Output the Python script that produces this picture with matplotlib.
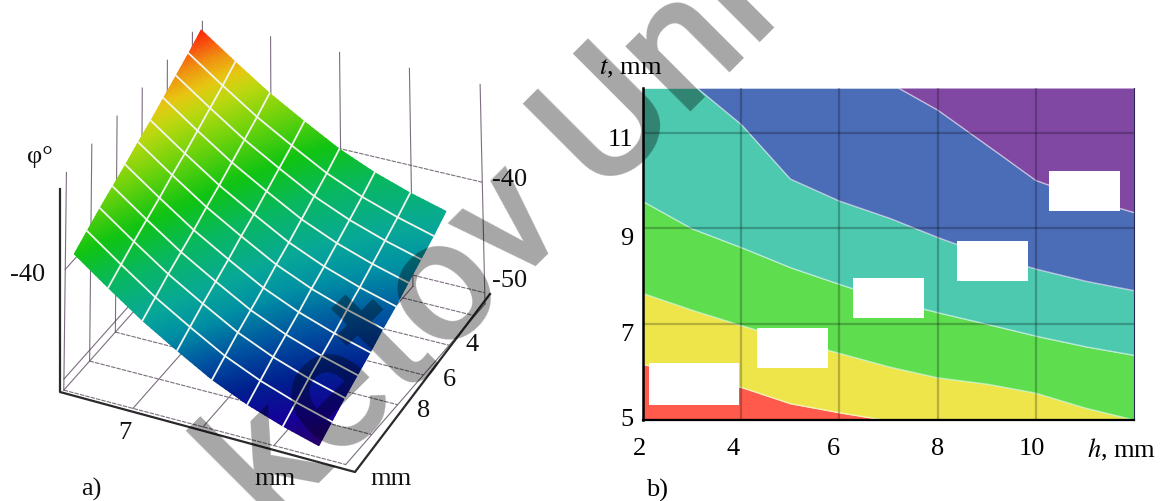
import numpy as np
import matplotlib
matplotlib.use("Agg")
import matplotlib.pyplot as plt
from matplotlib.colors import LinearSegmentedColormap, Normalize
from matplotlib.patches import Rectangle
from matplotlib.transforms import ScaledTranslation

W, H = 1161, 502
plt.rcParams['font.family'] = ['Liberation Serif', 'DejaVu Serif']
FS = 19

# ---------- data, panel a ----------
h_grid = [2, 3, 4, 5, 6, 7, 8, 9, 10, 11, 12]
t_grid = [5, 6, 7, 8, 9, 10, 11, 12]
phi_t5 = [-31.7, -32.6, -33.4, -34.2, -35.0, -35.7, -36.5, -37.2, -37.9, -38.7, -39.5]
phi_t6 = [-34.0, -34.9, -35.7, -36.5, -37.3, -38.0, -38.8, -39.5, -40.2, -41.0, -41.8]
phi_t7 = [-36.2, -37.1, -37.9, -38.7, -39.5, -40.2, -41.0, -41.7, -42.4, -43.2, -44.0]
phi_t8 = [-38.1, -39.0, -39.8, -40.6, -41.4, -42.1, -42.9, -43.6, -44.3, -45.1, -45.9]
phi_t9 = [-39.9, -40.8, -41.6, -42.4, -43.2, -43.9, -44.7, -45.4, -46.1, -46.9, -47.7]
phi_t10 = [-41.3, -42.2, -43.0, -43.8, -44.6, -45.3, -46.1, -46.8, -47.5, -48.3, -49.1]
phi_t11 = [-42.4, -43.3, -44.1, -44.9, -45.7, -46.4, -47.2, -47.9, -48.6, -49.4, -50.2]
phi_t12 = [-43.3, -44.2, -45.0, -45.8, -46.6, -47.3, -48.1, -48.8, -49.5, -50.3, -51.1]

# ---------- data, panel b: boundaries between bands ----------
red_h = [2, 4, 5, 6, 6.9, 12]
red_t = [6.16, 5.68, 5.34, 5.15, 5.0, 5.0]
yellow_h = [2, 3, 4, 5, 6, 7, 8, 9, 10, 11, 12]
yellow_t = [7.64, 7.29, 6.97, 6.67, 6.39, 6.11, 5.88, 5.75, 5.56, 5.25, 5.0]
green_h = [2, 3, 4, 5, 6, 7, 8, 9, 10, 11, 12]
green_t = [9.56, 8.99, 8.6, 8.18, 7.83, 7.5, 7.24, 7.0, 6.75, 6.53, 6.35]
teal_h = [2, 3.1, 4, 5, 6, 7, 8, 9, 10, 11, 12]
teal_t = [11.93, 11.93, 11.17, 10.03, 9.57, 9.22, 8.81, 8.44, 8.15, 7.9, 7.7]
blue_h = [2, 7.2, 8, 9, 10, 11, 12]
blue_t = [11.93, 11.93, 11.47, 10.74, 10.0, 9.63, 9.33]
band_colors = ['#FF5A4B', '#EEE54A', '#5EDD4E', '#4CC9AE', '#4B6CB7', '#8148A3']

fig = plt.figure(figsize=(W / 100, H / 100), dpi=100)
ov = fig.add_axes([0, 0, 1, 1])
ov.set_xlim(0, W); ov.set_ylim(H, 0); ov.axis('off')

# ---------- camera for panel a ----------
anchors = [
    (1.9, 5, -51, 204, 255), (1.9, 13, -51, 482, 295), (12.7, 5, -51, 64, 377),
    (12.7, 13, -51, 352, 468), (1.9, 5, -31, 204, 13), (1.9, 13, -31, 482, 92),
    (12.7, 5, -31, 64, 182), (2, 5, -31.7, 202, 26), (2, 12, -43.3, 443, 210),
    (12, 5, -39.5, 73, 255), (12, 12, -51.1, 316, 450),
]
A, b = [], []
for a1, a2, a3, px, py in anchors:
    A.append([a1, a2, a3, 1, 0, 0, 0, 0, -px * a1, -px * a2, -px * a3]); b.append(px)
    A.append([0, 0, 0, 0, a1, a2, a3, 1, -py * a1, -py * a2, -py * a3]); b.append(py)
P = np.append(np.linalg.lstsq(np.array(A, float), np.array(b, float), rcond=None)[0], 1).reshape(3, 4)


def project(h, t, z):
    h, t, z = np.broadcast_arrays(np.asarray(h, float), np.asarray(t, float), np.asarray(z, float))
    q = np.stack([h, t, z, np.ones_like(h)], -1) @ P.T
    return q[..., 0] / q[..., 2], q[..., 1] / q[..., 2]


WALL = dict(color='#5b4a5e', lw=0.8, alpha=0.8, zorder=1)
DASH = dict(WALL, ls=(0, (4, 1)))
zb, zt = -51, -31
for tt in [5, 7, 9, 11, 13]:
    xs, ys = project(1.9, tt, [zb, zt]); ov.plot(xs, ys, **WALL)
    xs, ys = project([1.9, 12.7], tt, zb); ov.plot(xs, ys, **WALL)
for hh in [2, 4, 6, 8, 10, 12]:
    xs, ys = project(hh + 0.7, 5, [zb, zt]); ov.plot(xs, ys, **WALL)
    xs, ys = project(hh + 0.7, [5, 13], zb); ov.plot(xs, ys, **DASH)
for zz in [-40, -50]:
    xs, ys = project(1.9, [5, 13], zz); ov.plot(xs, ys, **DASH)
    xs, ys = project([1.9, 12.7], 5, zz); ov.plot(xs, ys, **WALL)

# surface: vertex table, smoothed for drawing only
Z = np.array([phi_t5, phi_t6, phi_t7, phi_t8, phi_t9, phi_t10, phi_t11, phi_t12])
sub = 8
ti = np.linspace(0, len(t_grid) - 1, (len(t_grid) - 1) * sub + 1)
hi = np.linspace(0, len(h_grid) - 1, (len(h_grid) - 1) * sub + 1)
Zf = np.array([np.interp(hi, np.arange(len(h_grid)), row) for row in Z])
Zf = np.array([np.interp(ti, np.arange(len(t_grid)), col) for col in Zf.T]).T
HHf, TTf = np.meshgrid(np.interp(hi, np.arange(len(h_grid)), h_grid), np.interp(ti, np.arange(len(t_grid)), t_grid))
Xf, Yf = project(HHf, TTf, Zf)
z_stops = [-51.5, -50, -48.5, -47, -45.2, -43.8, -41.6, -39.6, -37.2, -35.5, -34.5, -33.3, -32.4, -31.5]
c_stops = ['#2c0058', '#16009a', '#00208f', '#0050a0', '#0090a4', '#08a898', '#08b860', '#10c412',
           '#78d40c', '#c0d810', '#e8c812', '#f09010', '#f85010', '#ff1c00']
pos = (np.array(z_stops) - z_stops[0]) / (z_stops[-1] - z_stops[0])
cmap = LinearSegmentedColormap.from_list('surf', list(zip(pos, c_stops)))
ov.pcolormesh(Xf, Yf, Zf, shading='gouraud', cmap=cmap, norm=Normalize(z_stops[0], z_stops[-1]),
              zorder=2, rasterized=True)
HH, TT = np.meshgrid(h_grid, t_grid)
X2, Y2 = project(HH, TT, Z)
for i in range(1, len(t_grid) - 1):
    ov.plot(X2[i, :], Y2[i, :], color='#f2f6ee', lw=1.3, zorder=3)
for j in range(1, len(h_grid) - 1):
    ov.plot(X2[:, j], Y2[:, j], color='#f2f6ee', lw=1.3, zorder=3)

# outer axes of the 3D box
ov.plot([60, 60, 355, 490], [190, 393, 473, 295], color='#2a2a2a', lw=1.6, zorder=4)

panel_a_texts = [('φ°', 40, 157), ('-40', 28, 275), ('-40', 510, 180), ('-50', 510, 281),
                 ('4', 472, 345), ('6', 449, 380), ('8', 424, 411), ('7', 125, 433),
                 ('mm', 275, 479), ('mm', 391, 479), ('a)', 91, 489)]
for s, x, y in panel_a_texts:
    ov.text(x, y, s, fontsize=FS, ha='center', va='center', color='#111111', zorder=5)

# ---------- panel b ----------
ax = fig.add_axes([643 / W, 1 - 421 / H, 491 / W, 332 / H])
ax.set_xlim(2, 12); ax.set_ylim(5, 11.93)
hh = np.linspace(2, 12, 401)
top = np.full_like(hh, 11.93)
bottom = np.full_like(hh, 5.0)
curves = [np.interp(hh, red_h, red_t), np.interp(hh, yellow_h, yellow_t), np.interp(hh, green_h, green_t),
          np.interp(hh, teal_h, teal_t), np.interp(hh, blue_h, blue_t)]
lows = [bottom] + curves
highs = curves + [top]
for lo, hi_, c in zip(lows, highs, band_colors):
    ax.fill_between(hh, lo, hi_, color=c, lw=0, zorder=1)
for cv in curves:
    ax.plot(hh, cv, color='white', lw=1.0, alpha=0.55, zorder=2)

ax.set_xticks([2, 4, 6, 8, 10])
ax.set_yticks([5, 7, 9, 11])
ax.set_xticklabels(['2', '4', '6', '8', '10'], fontsize=FS)
ax.set_yticklabels(['5', '7', '9', '11'], fontsize=FS)
ax.tick_params(length=0, pad=12, axis='x')
ax.tick_params(length=0, pad=7, axis='y')
ax.grid(True, color='black', alpha=0.24, lw=1.6, zorder=3)
ax.set_axisbelow(False)
ax.spines['top'].set_visible(False)
ax.spines['right'].set_color('#2a2a55'); ax.spines['right'].set_linewidth(0.8)
ax.spines['left'].set_linewidth(1.8); ax.spines['bottom'].set_linewidth(1.6)
ax.spines['left'].set_color('black'); ax.spines['bottom'].set_color('black')
shifts_y = {'5': 3, '7': -7, '9': -7, '11': -4}
for lab in ax.get_yticklabels():
    lab.set_transform(lab.get_transform() + ScaledTranslation(0, shifts_y[lab.get_text()] / 100, fig.dpi_scale_trans))
shifts_x = {'2': -3, '4': -8, '6': -6, '8': 0, '10': -4}
for lab in ax.get_xticklabels():
    lab.set_transform(lab.get_transform() + ScaledTranslation(shifts_x[lab.get_text()] / 100, 0, fig.dpi_scale_trans))

# masks hiding the band labels
for x0, y0, x1, y1 in [(649, 364, 739, 406), (757, 329, 828, 369), (853, 279, 924, 319),
                       (957, 242, 1028, 282), (1049, 172, 1120, 212)]:
    fig.add_artist(Rectangle((x0 / W, 1 - y1 / H), (x1 - x0) / W, (y1 - y0) / H, color='white', lw=0,
                             transform=fig.transFigure, zorder=6))

fig.text(631 / W, 1 - 69 / H, r'$\mathit{t}$, mm', fontsize=FS, ha='center', va='center', math_fontfamily='stix', zorder=7)
fig.text(1122 / W, 1 - 450 / H, r'$\mathit{h}$, mm', fontsize=FS, ha='center', va='center', math_fontfamily='stix', zorder=7)
fig.text(657 / W, 1 - 490 / H, 'b)', fontsize=FS, ha='center', va='center', zorder=7)

# watermark
fig.text(272 / W, 1 - 531 / H, 'ketov Uni', fontsize=125, rotation=45, rotation_mode='anchor',
         ha='left', va='baseline', color='black', alpha=0.35, family='Roboto', weight=500, zorder=8)

fig.savefig('out.png', dpi=100)
